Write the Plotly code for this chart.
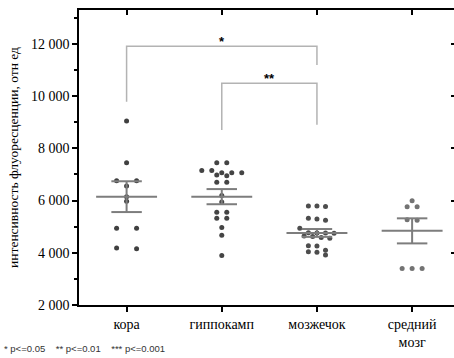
import plotly.graph_objects as go

# ---- data ----
categories = ["кора", "гиппокамп", "мозжечок", "средний<br>мозг"]
kora = [9050, 7450, 6760, 6760, 6560, 6150, 5970, 4940, 4940, 4180, 4150]
hippocampus = [7450, 7450, 7150, 7150, 7070, 7070, 7070, 6980, 6950, 6700, 6700,
               6190, 5950, 5550, 5550, 5320, 5320, 4970, 4670, 3900]
cerebellum = [5790, 5790, 5770, 5320, 5290, 5250, 4940, 4770, 4760, 4760, 4750,
              4640, 4620, 4590, 4555, 4270, 4260, 4100, 4040, 4020, 3920]
midbrain = [5990, 5760, 5760, 5270, 5250, 3400, 3400, 3400]
group_means = [6150, 6150, 4760, 4840]
group_sems = [590, 290, 150, 480]
y_tick_values = [2000, 4000, 6000, 8000, 10000, 12000]
y_tick_labels = ["2 000", "4 000", "6 000", "8 000", "10 000", "12 000"]
# significance brackets: (left group, right group, bar value, left foot, right foot, label)
brackets = [(0, 2, 11910, 9790, 11195, "*"), (1, 2, 10494, 8700, 8900, "**")]
footnote = "* p<=0.05&nbsp;&nbsp;&nbsp;&nbsp;** p<=0.01&nbsp;&nbsp;&nbsp;&nbsp;*** p<=0.001"

groups = [kora, hippocampus, cerebellum, midbrain]
point_colors = ["#404040", "#444444", "#4d4d4d", "#737373"]
spacing = [0.21, 0.105, 0.09, 0.105]   # horizontal spread per column (layout)
bin_width = [150, 150, 190, 150]        # rows for the dot spreading (layout)

Y_RANGE = [2000, 13300]
X_RANGE = [-0.5, 3.44]
SERIF = "Liberation Serif"
SANS = "Liberation Sans"


def swarm(values, step, width):
    """Spread points horizontally: values close together share a row."""
    order = sorted(range(len(values)), key=lambda k: -values[k])
    rows, cur = [], []
    for k in order:
        if cur and values[cur[0]] - values[k] > width:
            rows.append(cur)
            cur = []
        cur.append(k)
    if cur:
        rows.append(cur)
    offs = [0.0] * len(values)
    for row in rows:
        n = len(row)
        for j, k in enumerate(row):
            offs[k] = (j - (n - 1) / 2) * step
    return offs


fig = go.Figure()

for i, vals in enumerate(groups):
    offs = swarm(vals, spacing[i], bin_width[i])
    fig.add_trace(go.Scatter(
        x=[i + o for o in offs], y=vals, mode="markers",
        marker=dict(size=5, color=point_colors[i]),
        showlegend=False, hoverinfo="skip"))

# mean +/- SEM
line_style = dict(color="#7d7d7d", width=2)
for i, (m, s) in enumerate(zip(group_means, group_sems)):
    xs = [i - 0.32, i + 0.32, None, i, i, None, i - 0.16, i + 0.16, None, i - 0.16, i + 0.16]
    ys = [m, m, None, m - s, m + s, None, m + s, m + s, None, m - s, m - s]
    fig.add_trace(go.Scatter(x=xs, y=ys, mode="lines", line=line_style,
                             showlegend=False, hoverinfo="skip"))

# significance brackets
for a, b, top, fa, fb, lab in brackets:
    fig.add_trace(go.Scatter(x=[a, a, b, b], y=[fa, top, top, fb], mode="lines",
                             line=dict(color="#b3b3b3", width=1.5),
                             showlegend=False, hoverinfo="skip"))
    fig.add_annotation(x=(a + b) / 2, y=top, text="<b>" + lab + "</b>", showarrow=False,
                       yanchor="bottom", yshift=-5,
                       font=dict(family=SANS, size=13, color="black"))

# invisible trace to carry the mirrored frame axes
fig.add_trace(go.Scatter(x=[0], y=[Y_RANGE[0]], xaxis="x2", yaxis="y2", mode="markers",
                         marker=dict(opacity=0), showlegend=False, hoverinfo="skip"))

fig.add_annotation(text=footnote, xref="paper", yref="paper", x=-0.205, y=-0.148,
                   xanchor="left", yanchor="middle", showarrow=False,
                   font=dict(family=SANS, size=9.5, color="#333"))

serif = dict(family=SERIF, size=14, color="black")
fig.update_layout(
    width=454, height=358,
    margin=dict(l=79, r=0, t=10, b=53),
    plot_bgcolor="white", paper_bgcolor="white",
    font=serif,
    xaxis=dict(range=X_RANGE, tickvals=list(range(len(categories))), ticktext=categories,
               showline=True, linecolor="black", linewidth=1.5, ticks="outside",
               ticklen=5, tickwidth=1.5, tickcolor="black", showgrid=False,
               zeroline=False, tickfont=serif),
    yaxis=dict(range=Y_RANGE, tickvals=y_tick_values, ticktext=y_tick_labels,
               showline=True, linecolor="black", linewidth=1.5, ticks="outside",
               ticklen=5, tickwidth=1.5, tickcolor="black", showgrid=False,
               zeroline=False, tickfont=serif,
               minor=dict(dtick=1000, tick0=2000, ticks="outside", ticklen=3,
                          tickcolor="black", tickwidth=1.5),
               title=dict(text="интенсивность флуоресценции, отн ед",
                          font=dict(family=SERIF, size=13.5, color="black"),
                          standoff=9)),
    xaxis2=dict(range=X_RANGE, overlaying="x", side="top", showline=True,
                linecolor="black", linewidth=1.5, ticks="inside", ticklen=5,
                tickwidth=1.5, tickcolor="black", tickvals=list(range(len(categories))),
                showticklabels=False, showgrid=False, zeroline=False),
    yaxis2=dict(range=Y_RANGE, overlaying="y", side="right", showline=False,
                ticks="inside", ticklen=3, tickwidth=1.5, tickcolor="black",
                tickvals=y_tick_values, showticklabels=False, showgrid=False,
                zeroline=False),
)

fig.write_html("out.html", config={"displayModeBar": False},
               post_script="document.body.style.margin='0';"
                           "document.body.style.overflow='hidden';")
